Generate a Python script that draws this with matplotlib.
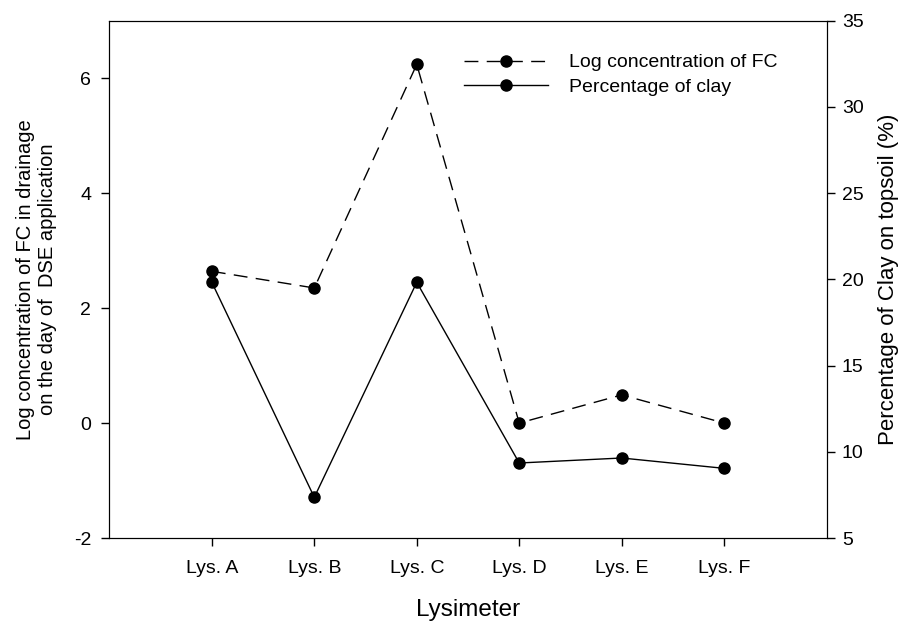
import matplotlib.pyplot as plt

plt.rcParams['font.family'] = ['Liberation Sans', 'DejaVu Sans']
plt.rcParams['axes.unicode_minus'] = False

lysimeters = ["Lys. A", "Lys. B", "Lys. C", "Lys. D", "Lys. E", "Lys. F"]
log_fc = [2.64, 2.35, 6.24, 0.0, 0.49, 0.0]
clay_pct = [19.83, 7.36, 19.83, 9.35, 9.64, 9.04]

x = list(range(1, len(lysimeters) + 1))

fig = plt.figure(figsize=(9.09, 6.24), dpi=100)
ax = fig.add_axes([0.1203, 0.1378, 0.7891, 0.829])
ax2 = ax.twinx()

l1, = ax.plot(x, log_fc, color='black', lw=1, dashes=(10, 6),
              marker='o', markersize=8, label="Log concentration of FC")
l2, = ax2.plot(x, clay_pct, color='black', lw=1,
               marker='o', markersize=8, label="Percentage of clay")

ax.set_xlim(0, 7)
ax.set_ylim(-2, 7)
ax.set_yticks([-2, 0, 2, 4, 6])
ax.set_xticks(x)
ax.set_xticklabels(lysimeters)
ax2.set_ylim(5, 35)
ax2.set_yticks([5, 10, 15, 20, 25, 30, 35])

ax.tick_params(direction='out', length=6, width=1, labelsize=14, pad=7)
ax2.tick_params(direction='out', length=6, width=1, labelsize=14, pad=5)
ax.tick_params(axis='x', pad=10)

ax.set_xlabel("Lysimeter", fontsize=17.5, labelpad=16)
ax.set_ylabel("Log concentration of FC in drainage\non the day of  DSE application",
              fontsize=14.5, labelpad=12)
ax2.set_ylabel("Percentage of Clay on topsoil (%)", fontsize=16, labelpad=10)

ax.legend(handles=[l1, l2], loc='upper left', bbox_to_anchor=(0.47, 0.97),
          frameon=False, fontsize=14, handlelength=4.3, handletextpad=1.08,
          labelspacing=0.34)

fig.savefig("out.png", dpi=100)
